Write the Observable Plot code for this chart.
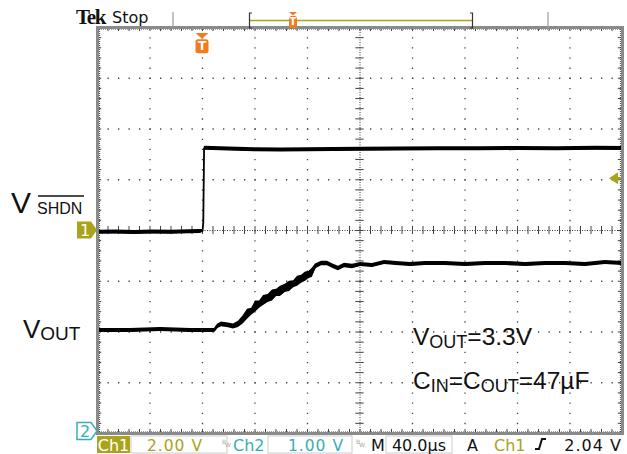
<!DOCTYPE html>
<html><head><meta charset="utf-8">
<script src="https://cdn.jsdelivr.net/npm/d3@7"></script>
<script src="https://cdn.jsdelivr.net/npm/@observablehq/plot@0.6"></script>
<style>
body{margin:0;background:#fff;overflow:hidden;}
#chart svg{display:block;}
</style></head><body><div id="chart"></div>
<script>
// ---- scope settings ----
const timePerDiv = 40;          // µs/div
const timeStart = -80;          // µs at left edge
const ch1VoltsPerDiv = 2;
const ch2VoltsPerDiv = 1;
const ch2GroundDiv = -3.96;     // ch2 ground marker position (divisions from centre)
const triggerLevel = 2.04;      // V on Ch1
const triggerTime = 0;

// ---- Ch1 : V_SHDN (µs, V, noise half-width V) ----
const ch1Time   = [-80, -66, -52, -38, -24, -10, -2, 0, 0.6, 1.2, 2, 8, 20, 40, 60, 80, 100, 120, 150, 180, 210, 240, 270, 300, 320];
const ch1Volts  = [-0.07, -0.06, -0.08, -0.06, -0.07, -0.05, -0.04, -0.02, 0.3, 3.22, 3.24, 3.23, 3.21, 3.18, 3.17, 3.18, 3.19, 3.2, 3.21, 3.22, 3.22, 3.23, 3.22, 3.24, 3.23];
const ch1Spread = [0.08, 0.08, 0.08, 0.08, 0.08, 0.08, 0.08, 0.06, 0.02, 0.06, 0.08, 0.08, 0.08, 0.08, 0.08, 0.08, 0.08, 0.08, 0.08, 0.08, 0.08, 0.08, 0.08, 0.08, 0.08];

// ---- Ch2 : V_OUT (µs, V, noise half-width V) ----
const ch2Time   = [-80, -55, -32, -9, 9.1, 11.4, 14.5, 19.8, 23.6, 27.4, 31, 34.3, 37.5, 40.4, 43.5, 46.5, 50, 53.3, 56.5, 59.4, 63, 66.3, 69.5, 72.4, 75.5, 78.5, 81, 83.8, 86.1, 90.7, 95.2, 99.8, 103.6, 108.2, 114.3, 120.4, 129.5, 138.7, 147.8, 158.5, 169.9, 185.1, 200.4, 215.6, 230.9, 246.1, 261.3, 276.6, 291.8, 307, 320];
const ch2Volts  = [1.99, 1.99, 2.01, 1.99, 1.99, 2.07, 2.11, 2.09, 2.07, 2.11, 2.2, 2.31, 2.36, 2.46, 2.5, 2.58, 2.62, 2.68, 2.73, 2.76, 2.82, 2.86, 2.9, 2.96, 3.0, 3.05, 3.08, 3.13, 3.25, 3.31, 3.31, 3.25, 3.21, 3.27, 3.25, 3.29, 3.27, 3.33, 3.31, 3.29, 3.31, 3.31, 3.29, 3.31, 3.31, 3.29, 3.31, 3.31, 3.29, 3.33, 3.31];
const ch2Spread = [0.04, 0.04, 0.04, 0.04, 0.04, 0.045, 0.045, 0.045, 0.05, 0.06, 0.08, 0.1, 0.07, 0.11, 0.07, 0.1, 0.08, 0.11, 0.07, 0.1, 0.08, 0.1, 0.07, 0.1, 0.08, 0.09, 0.07, 0.09, 0.05, 0.045, 0.045, 0.045, 0.045, 0.045, 0.045, 0.04, 0.04, 0.04, 0.04, 0.04, 0.04, 0.04, 0.04, 0.04, 0.04, 0.04, 0.04, 0.04, 0.04, 0.04, 0.04];

// ---- text ----
const topLabels = {brand: "Tek", state: "Stop"};
const traceLabels = ["V", "SHDN", "V", "OUT"];
const noteLines = [["V", "OUT", "=3.3V"], ["C", "IN", "=C", "OUT", "=47µF"]];
const statusItems = ["Ch1", "2.00 V", "Ch2", "1.00 V", "M", "40.0µs", "A", "Ch1", "2.04 V"];

const OLIVE = "#aaa31c", CYAN = "#36aeb8", ORANGE = "#f47a1f";

const ch1 = ch1Time.map((t, i) => ({t, d: ch1Volts[i] / ch1VoltsPerDiv, s: ch1Spread[i] / ch1VoltsPerDiv}));
const ch2 = ch2Time.map((t, i) => ({t, d: ch2Volts[i] / ch2VoltsPerDiv + ch2GroundDiv, s: ch2Spread[i] / ch2VoltsPerDiv}));

const timeEnd = timeStart + 10 * timePerDiv;
const majorT = d3.range(1, 10).map(k => timeStart + k * timePerDiv);
const majorY = d3.range(-3, 4);
const minorT = d3.range(1, 50).map(k => timeStart + k * timePerDiv / 5);
const minorY = d3.range(-19, 20).map(k => k / 5);
const centreT = timeStart + 5 * timePerDiv;

const W = 627, H = 454, mL = 97, mR = 5, mT = 27, mB = 21;
const plot = Plot.plot({
  width: W, height: H, marginLeft: mL, marginRight: mR, marginTop: mT, marginBottom: mB,
  x: {domain: [timeStart, timeEnd], axis: null},
  y: {domain: [-4, 4], axis: null},
  style: {background: "white"},
  marks: [
    // dotted graticule
    Plot.ruleX(majorT.filter(t => t !== centreT), {stroke: "#444", strokeWidth: 1.3, strokeDasharray: "1.3,8.85"}),
    Plot.ruleY(majorY.filter(y => y !== 0), {stroke: "#444", strokeWidth: 1.3, strokeDasharray: "1.3,9.2"}),
    // centre crosshair
    Plot.ruleX([centreT], {stroke: "#333", strokeWidth: 1, strokeDasharray: "1,1.5"}),
    Plot.ruleY([0], {stroke: "#333", strokeWidth: 1, strokeDasharray: "1,1.5"}),
    Plot.ruleX(minorT, {x: d => d, y1: -0.08, y2: 0.08, stroke: "#444", strokeWidth: 1}),
    Plot.ruleY(minorY, {y: d => d, x1: centreT - 0.08 * timePerDiv, x2: centreT + 0.08 * timePerDiv, stroke: "#444", strokeWidth: 1}),
    // edge ticks
    Plot.ruleX(minorT, {x: d => d, y1: 4, y2: 3.92, stroke: "#444", strokeWidth: 1}),
    Plot.ruleX(minorT, {x: d => d, y1: -4, y2: -3.92, stroke: "#444", strokeWidth: 1}),
    Plot.ruleY(minorY, {y: d => d, x1: timeStart, x2: timeStart + 0.08 * timePerDiv, stroke: "#444", strokeWidth: 1}),
    Plot.ruleY(minorY, {y: d => d, x1: timeEnd, x2: timeEnd - 0.08 * timePerDiv, stroke: "#444", strokeWidth: 1}),
    Plot.ruleY([3.97, -3.97], {stroke: "#444", strokeWidth: 1, strokeDasharray: "1,1"}),
    Plot.ruleX([timeStart + 0.04 * timePerDiv, timeEnd - 0.04 * timePerDiv], {stroke: "#444", strokeWidth: 1, strokeDasharray: "1,1"}),
    // traces (noise envelope + centre line)
    Plot.areaY(ch1, {x: "t", y1: d => d.d - d.s, y2: d => d.d + d.s, fill: "black"}),
    Plot.line(ch1, {x: "t", y: "d", stroke: "black", strokeWidth: 1.8}),
    Plot.areaY(ch2, {x: "t", y1: d => d.d - d.s, y2: d => d.d + d.s, fill: "black"}),
    Plot.line(ch2, {x: "t", y: "d", stroke: "black", strokeWidth: 1.8}),
    Plot.frame({stroke: "#8a8a8a", strokeWidth: 3})
  ]
});
document.getElementById("chart").appendChild(plot);

const xs = plot.scale("x"), ys = plot.scale("y");
const svg = d3.select(plot).append("g").attr("text-anchor", "start");
const sans = "'Liberation Sans', Arial, sans-serif";
const scope = "'DejaVu Sans', sans-serif";

// ---- top bar ----
svg.append("text").attr("x", 76).attr("y", 24).attr("font-family", "'Liberation Serif', serif").attr("font-weight", "bold")
  .attr("font-size", 21).attr("letter-spacing", -1.3).attr("fill", "#111").text(topLabels.brand);
svg.append("text").attr("x", 112).attr("y", 23).attr("font-family", scope).attr("font-size", 16).attr("fill", "#111").text(topLabels.state);
[173, 548].forEach(x => svg.append("line").attr("x1", x).attr("x2", x).attr("y1", 12).attr("y2", 29).attr("stroke", "#999").attr("stroke-width", 1.2));
svg.append("line").attr("x1", 250).attr("x2", 473).attr("y1", 20.5).attr("y2", 20.5).attr("stroke", OLIVE).attr("stroke-width", 1.5);
svg.append("path").attr("d", "M252,13 H249.5 V28 H252").attr("fill", "none").attr("stroke", "#333").attr("stroke-width", 1.2);
svg.append("path").attr("d", "M470,13 H472.5 V28 H470").attr("fill", "none").attr("stroke", "#333").attr("stroke-width", 1.2);
function trigMarker(cx, top, w, h) {
  svg.append("path").attr("d", `M${cx - w / 2},${top} H${cx + w / 2} L${cx},${top + w * 0.45} Z`).attr("fill", ORANGE);
  svg.append("rect").attr("x", cx - w / 2).attr("y", top + w * 0.45 + 0.5).attr("width", w).attr("height", h).attr("rx", 2.5).attr("fill", ORANGE);
  svg.append("text").attr("x", cx).attr("y", top + w * 0.45 + h - 2.5).attr("text-anchor", "middle").attr("font-family", scope)
    .attr("font-weight", "bold").attr("font-size", h - 2).attr("fill", "white").text("T");
}
trigMarker(293, 12, 8, 12);
trigMarker(xs.apply(triggerTime), 33, 13, 14);

// ---- trigger level arrow (right edge) ----
const ty = ys.apply(triggerLevel / ch1VoltsPerDiv);
svg.append("path").attr("d", `M609,${ty} L618,${ty - 6} V${ty + 6} Z`).attr("fill", OLIVE);
svg.append("line").attr("x1", 616).attr("x2", 621).attr("y1", ty).attr("y2", ty).attr("stroke", OLIVE).attr("stroke-width", 2.5);

// ---- channel ground markers ----
function chMarker(y, label, filled, color) {
  svg.append("path").attr("d", `M77,${y - 8.5} H91 L97,${y} L91,${y + 8.5} H77 Z`)
    .attr("fill", filled ? color : "white").attr("stroke", color).attr("stroke-width", filled ? 0 : 1.5);
  svg.append("text").attr("x", 85).attr("y", y + 6).attr("text-anchor", "middle").attr("font-family", scope)
    .attr("font-size", 16).attr("fill", filled ? "white" : color).text(label);
}
chMarker(ys.apply(0), "1", true, OLIVE);
chMarker(ys.apply(ch2GroundDiv), "2", false, CYAN);

// ---- trace labels ----
svg.append("text").attr("x", 11).attr("y", 213).attr("font-family", sans).attr("font-size", 30).attr("fill", "#111").text(traceLabels[0]);
svg.append("text").attr("x", 37).attr("y", 214).attr("font-family", sans).attr("font-size", 16).attr("fill", "#111").text(traceLabels[1]);
svg.append("line").attr("x1", 38).attr("x2", 84).attr("y1", 196).attr("y2", 196).attr("stroke", "#111").attr("stroke-width", 1.3);
const vout = svg.append("text").attr("x", 23).attr("y", 338).attr("font-family", sans).attr("fill", "#111");
vout.append("tspan").attr("font-size", 26).text(traceLabels[2]);
vout.append("tspan").attr("font-size", 19).attr("dy", 2).text(traceLabels[3]);

// ---- notes ----
function note(y, parts) {
  const t = svg.append("text").attr("x", 413).attr("y", y).attr("font-family", sans).attr("fill", "#111");
  parts.forEach((p, i) => {
    const sub = i % 2 === 1;
    t.append("tspan").attr("font-size", sub ? 18 : 24.5).attr("dy", i === 0 ? 0 : (sub ? 3 : -3)).text(p);
  });
}
note(345, noteLines[0]);
note(389, noteLines[1]);

// ---- status bar ----
const by = 436, bh = 17, bt = 451;
svg.append("rect").attr("x", 97).attr("y", by).attr("width", 33).attr("height", bh).attr("fill", OLIVE);
svg.append("text").attr("x", 113.5).attr("y", bt).attr("text-anchor", "middle").attr("font-family", scope).attr("font-size", 16).attr("fill", "white").text(statusItems[0]);
svg.append("rect").attr("x", 131).attr("y", by).attr("width", 96).attr("height", bh).attr("fill", "none").attr("stroke", "#ccc");
svg.append("text").attr("x", 175).attr("y", bt).attr("text-anchor", "middle").attr("font-family", scope).attr("font-size", 15.5).attr("letter-spacing", 1).attr("fill", OLIVE).text(statusItems[1]);
function bw(x) {
  const t = svg.append("text").attr("x", x).attr("y", 444).attr("font-family", scope).attr("font-size", 6).attr("fill", "#aa9");
  t.append("tspan").text("B"); t.append("tspan").attr("dy", 3).attr("dx", -1).text("W");
}
bw(222);
svg.append("text").attr("x", 233).attr("y", bt).attr("font-family", scope).attr("font-size", 16).attr("fill", CYAN).text(statusItems[2]);
svg.append("rect").attr("x", 268).attr("y", by).attr("width", 84).attr("height", bh).attr("fill", "none").attr("stroke", "#ccc");
svg.append("text").attr("x", 316).attr("y", bt).attr("text-anchor", "middle").attr("font-family", scope).attr("font-size", 15.5).attr("letter-spacing", 1).attr("fill", CYAN).text(statusItems[3]);
bw(356);
svg.append("text").attr("x", 371).attr("y", bt).attr("font-family", scope).attr("font-size", 16).attr("fill", "#111").text(statusItems[4]);
svg.append("rect").attr("x", 386).attr("y", by).attr("width", 66).attr("height", bh).attr("fill", "none").attr("stroke", "#ccc");
svg.append("text").attr("x", 419).attr("y", bt).attr("text-anchor", "middle").attr("font-family", scope).attr("font-size", 16).attr("fill", "#111").text(statusItems[5]);
svg.append("text").attr("x", 467).attr("y", bt).attr("font-family", scope).attr("font-size", 16).attr("fill", "#111").text(statusItems[6]);
svg.append("text").attr("x", 494).attr("y", bt).attr("font-family", scope).attr("font-size", 16).attr("fill", OLIVE).text(statusItems[7]);
svg.append("path").attr("d", "M535,449 H539 L542,439 H546").attr("fill", "none").attr("stroke", "#111").attr("stroke-width", 2);
svg.append("text").attr("x", 622).attr("y", bt).attr("text-anchor", "end").attr("font-family", scope).attr("font-size", 16).attr("letter-spacing", 1).attr("fill", "#111").text(statusItems[8]);
</script></body></html>
